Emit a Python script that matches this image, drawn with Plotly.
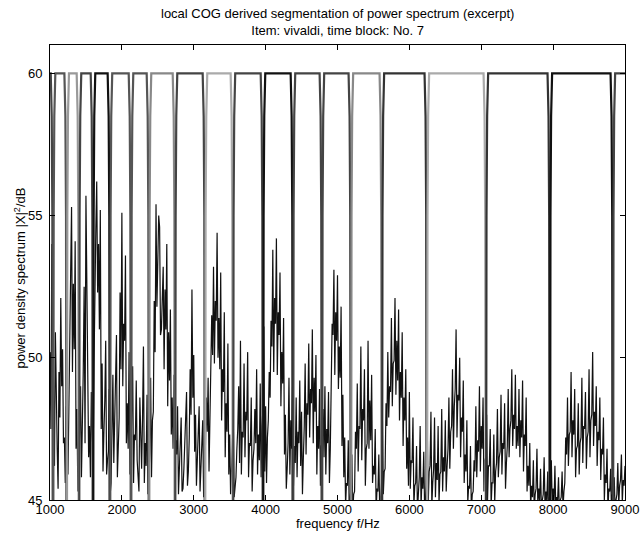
import plotly.graph_objects as go

# ---------------- data ----------------
freq_start = 1000
freq_step = 25
# spectrum samples read at 25 Hz steps (1000 ... 9000 Hz)
spectrum_db = [
    50.2, 54.0, 48.6, 50.9, 46.8, 49.5, 52.1, 50.3, 47.2, 48.3, 45.9, 51.8, 55.3, 52.6, 54.1, 48.2, 46.0, 49.0, 47.1, 52.5,
    55.7, 50.4, 47.6, 48.8, 46.3, 53.0, 56.2, 54.0, 55.2, 49.8, 47.4, 50.6, 46.4, 48.9, 45.6, 49.4, 48.0, 50.8, 46.9, 52.3,
    55.1, 51.2, 53.6, 48.4, 50.2, 46.5, 49.7, 47.3, 49.2, 45.8, 48.6, 46.1, 50.4, 47.0, 48.7, 45.5, 49.3, 47.8, 52.0, 55.4,
    53.1, 54.6, 51.0, 53.2, 52.4, 54.0, 50.9, 51.7, 48.6, 49.4, 47.1, 48.3, 46.2, 47.9, 45.4, 47.0, 48.8, 46.0, 49.6, 52.4,
    50.1, 48.0, 46.6, 48.3, 46.2, 47.8, 45.3, 48.6, 49.3, 47.7, 51.5, 53.2, 52.0, 54.4, 51.4, 53.0, 49.6, 51.6, 48.4, 50.5,
    47.3, 46.0, 47.9, 45.6, 46.8, 49.0, 50.6, 47.4, 49.8, 48.1, 50.2, 47.0, 48.6, 46.4, 48.2, 49.6, 47.3, 49.1, 47.6, 51.1,
    48.3, 47.2, 49.5, 51.3, 53.8, 52.1, 54.2, 51.6, 53.0, 50.2, 51.4, 48.0, 46.1, 49.3, 47.8, 49.0, 46.9, 48.6, 47.4, 49.2,
    48.1, 46.5, 49.8, 48.4, 50.5, 48.9, 51.0, 49.3, 50.1, 47.6, 48.9, 46.9, 48.2, 49.0, 47.5, 48.8, 46.8, 51.2, 53.1, 51.6,
    52.9, 50.4, 51.8, 48.7, 47.2, 45.6, 47.1, 45.3, 46.6, 45.2, 47.4, 49.1, 47.6, 50.4, 48.2, 49.6, 46.8, 50.6, 48.5, 49.4,
    46.2, 47.5, 45.4, 46.6, 45.1, 47.8, 46.0, 48.4, 50.2, 49.0, 51.4, 49.8, 52.1, 50.6, 51.7, 49.5, 50.9, 48.6, 49.6, 47.2,
    48.8, 46.4, 47.9, 45.5, 46.9, 45.2, 47.6, 45.8, 46.7, 45.1, 47.3, 46.0, 48.1, 45.6, 47.9, 46.3, 47.6, 45.9, 48.2, 46.5,
    47.8, 46.2, 48.6, 47.4, 49.6, 48.3, 51.0, 48.7, 50.0, 47.9, 49.2, 46.6, 47.8, 45.5, 46.9, 45.2, 46.4, 48.3, 47.1, 49.0,
    47.6, 48.6, 46.4, 48.0, 46.2, 47.5, 45.6, 47.3, 46.0, 48.2, 46.5, 48.7, 47.0, 48.4, 46.3, 48.9, 47.5, 49.6, 48.0, 49.4,
    47.6, 48.9, 47.8, 49.2, 47.3, 48.6, 46.2, 47.0, 45.5, 46.4, 45.2, 46.8, 45.4, 46.1, 45.0, 46.5, 45.3, 46.0, 45.1, 46.4,
    45.4, 46.2, 45.1, 45.8, 45.0, 46.0, 45.3, 47.2, 48.6, 47.3, 49.5, 47.8, 48.9, 46.8, 48.4, 47.0, 49.3, 47.6, 48.8, 47.2,
    49.6, 47.8, 50.2, 48.1, 49.0, 47.4, 48.6, 46.8, 47.9, 45.9, 46.8, 45.4, 46.1, 45.2, 45.8, 45.0, 46.3, 45.5, 46.6, 45.7,
    46.2,
]
# spectrum samples read between the above (1012.5 ... 8987.5 Hz)
spectrum_db_mid = [
    47.5, 51.5, 46.2, 48.0, 45.4, 47.9, 49.0, 47.0, 45.6, 46.5, 48.2, 53.0, 49.5, 50.3, 46.8, 45.3, 47.2, 45.8, 49.5, 47.0,
    52.0, 46.5, 45.8, 46.9, 49.8, 54.5, 52.3, 51.0, 47.5, 46.0, 48.5, 45.9, 46.7, 45.2, 47.6, 46.3, 49.0, 45.8, 47.9, 49.6,
    49.0, 50.6, 47.0, 46.8, 45.9, 47.8, 45.6, 47.1, 46.4, 45.3, 46.8, 47.9, 45.6, 46.2, 45.2, 46.7, 45.8, 48.1, 50.2, 51.8,
    55.0, 50.8, 52.6, 49.6, 51.0, 48.3, 49.2, 47.3, 46.8, 45.8, 46.6, 45.2, 46.7, 45.3, 46.1, 47.4, 45.5, 47.2, 48.0, 48.6,
    46.7, 45.5, 47.2, 45.3, 46.4, 45.1, 46.9, 47.4, 46.0, 48.9, 50.1, 49.8, 51.3, 50.0, 49.6, 47.8, 48.8, 46.5, 47.4, 45.9,
    45.2, 46.5, 45.1, 45.8, 47.5, 46.3, 45.9, 47.2, 46.5, 47.8, 45.8, 46.9, 45.3, 46.8, 47.0, 45.9, 46.4, 45.8, 48.2, 46.0,
    45.6, 47.8, 48.6, 50.4, 49.5, 51.2, 49.4, 50.8, 48.3, 49.1, 46.6, 45.4, 47.0, 45.9, 46.8, 45.5, 46.3, 45.8, 47.0, 46.2,
    45.2, 47.6, 46.6, 48.0, 47.2, 48.4, 47.0, 48.1, 45.9, 46.8, 45.5, 47.0, 46.5, 45.9, 47.0, 45.6, 48.7, 50.8, 49.4, 50.6,
    48.9, 49.3, 46.9, 45.8, 44.8, 45.5, 44.7, 45.4, 44.6, 45.3, 46.8, 46.0, 47.5, 46.4, 47.8, 45.5, 47.0, 46.8, 47.1, 45.6,
    45.9, 44.6, 45.3, 44.5, 45.6, 45.2, 46.1, 47.6, 47.9, 48.8, 48.3, 49.9, 48.7, 49.2, 47.8, 48.6, 46.9, 47.8, 46.1, 45.5,
    45.4, 46.3, 44.8, 45.6, 44.6, 45.8, 44.7, 45.4, 44.6, 45.5, 44.9, 46.2, 44.8, 46.1, 45.1, 45.7, 44.9, 46.0, 45.3, 46.0,
    45.3, 46.8, 46.1, 47.6, 46.8, 48.9, 47.2, 48.5, 46.5, 47.4, 45.6, 46.0, 44.9, 45.4, 44.6, 45.3, 46.0, 45.8, 46.7, 46.0,
    46.8, 45.3, 46.5, 45.0, 46.2, 44.8, 45.6, 44.9, 46.3, 45.8, 46.7, 45.9, 46.8, 45.4, 46.9, 46.5, 47.8, 46.9, 47.5, 46.8,
    46.9, 46.5, 47.2, 46.0, 46.9, 45.3, 45.5, 44.7, 45.1, 44.6, 45.4, 44.8, 45.0, 44.6, 45.2, 44.7, 45.0, 44.5, 45.2, 44.8,
    44.9, 44.6, 45.0, 44.5, 45.1, 44.7, 45.6, 46.6, 46.2, 47.4, 46.5, 47.3, 45.8, 46.9, 45.9, 47.2, 46.3, 47.5, 46.1, 47.4,
    46.5, 48.0, 46.9, 47.6, 46.2, 47.1, 45.7, 46.6, 45.0, 45.6, 44.6, 45.3, 44.5, 45.0, 44.6, 45.2, 44.8, 45.7, 44.9, 45.5,
]

# segment boundaries (Hz) and the colour of each segment window
boundaries = [850, 1042, 1232, 1403, 1598, 1834, 2127, 2377, 2739, 3156, 3545,
              3963, 4380, 4783, 5186, 5617, 6243, 7064, 7954, 8831, 9200]
segment_colors = ["#444444", "#555555", "#999999", "#444444", "#111111", "#555555",
                  "#555555", "#888888", "#444444", "#aaaaaa", "#444444", "#111111",
                  "#444444", "#444444", "#888888", "#333333", "#aaaaaa", "#333333",
                  "#111111", "#444444"]
window_level_db = 60

# edge profile of each window (offset from boundary in Hz, level below top in dB)
EDGE_OFFSETS = [0, 4, 9, 18, 32]
EDGE_DROP = [25, 12, 5, 1.5, 0]

x_ticks = [1000, 2000, 3000, 4000, 5000, 6000, 7000, 8000, 9000]
y_ticks = [45, 50, 55, 60]

title_text = "local COG derived segmentation of power spectrum (excerpt)<br>Item: vivaldi, time block: No. 7"
x_label = "frequency f/Hz"
y_label = "power density spectrum |X|<sup>2</sup>/dB"

# ---------------- figure ----------------
pts = [(freq_start + i * freq_step, v) for i, v in enumerate(spectrum_db)]
pts += [(freq_start + freq_step / 2 + i * freq_step, v) for i, v in enumerate(spectrum_db_mid)]
pts.sort()
freqs = [p[0] for p in pts]
vals = [p[1] for p in pts]

fig = go.Figure()

fig.add_trace(go.Scatter(x=freqs, y=vals, mode="lines",
                         line=dict(color="#111111", width=1.2), showlegend=False,
                         hoverinfo="skip"))

for i, col in enumerate(segment_colors):
    L, R = boundaries[i], boundaries[i + 1]
    xs = [L + o for o in EDGE_OFFSETS] + [R - o for o in reversed(EDGE_OFFSETS)]
    ys = [window_level_db - d for d in EDGE_DROP] + [window_level_db - d for d in reversed(EDGE_DROP)]
    fig.add_trace(go.Scatter(x=xs, y=ys, mode="lines",
                             line=dict(color=col, width=2.2), showlegend=False,
                             hoverinfo="skip"))

font = dict(family="Arial, Liberation Sans, sans-serif", size=13, color="#000000")

axis_common = dict(showline=True, linecolor="#000000", linewidth=1, mirror="ticks",
                   ticks="inside", ticklen=5, tickcolor="#000000", showgrid=False,
                   zeroline=False, tickfont=font, automargin=False)

fig.update_layout(
    width=641, height=534,
    margin=dict(l=50, r=16, t=45, b=34),
    paper_bgcolor="#ffffff", plot_bgcolor="#ffffff",
    font=font,
    xaxis=dict(range=[1000, 9000], tickvals=x_ticks, ticklabelstandoff=-3, **axis_common),
    yaxis=dict(range=[45, 61], tickvals=y_ticks, ticklabelstandoff=4, **axis_common),
    annotations=[
        dict(text=title_text, xref="paper", yref="paper", x=0.5, y=1.0505,
             xanchor="center", yanchor="middle", showarrow=False, font=font),
        dict(text=x_label, xref="paper", yref="paper", x=0.5, y=-0.052,
             xanchor="center", yanchor="middle", showarrow=False, font=font),
        dict(text=y_label, xref="paper", yref="paper", x=-0.052, y=0.487,
             xanchor="center", yanchor="middle", textangle=-90, showarrow=False, font=font),
    ],
)

fig.write_html("out.html")
